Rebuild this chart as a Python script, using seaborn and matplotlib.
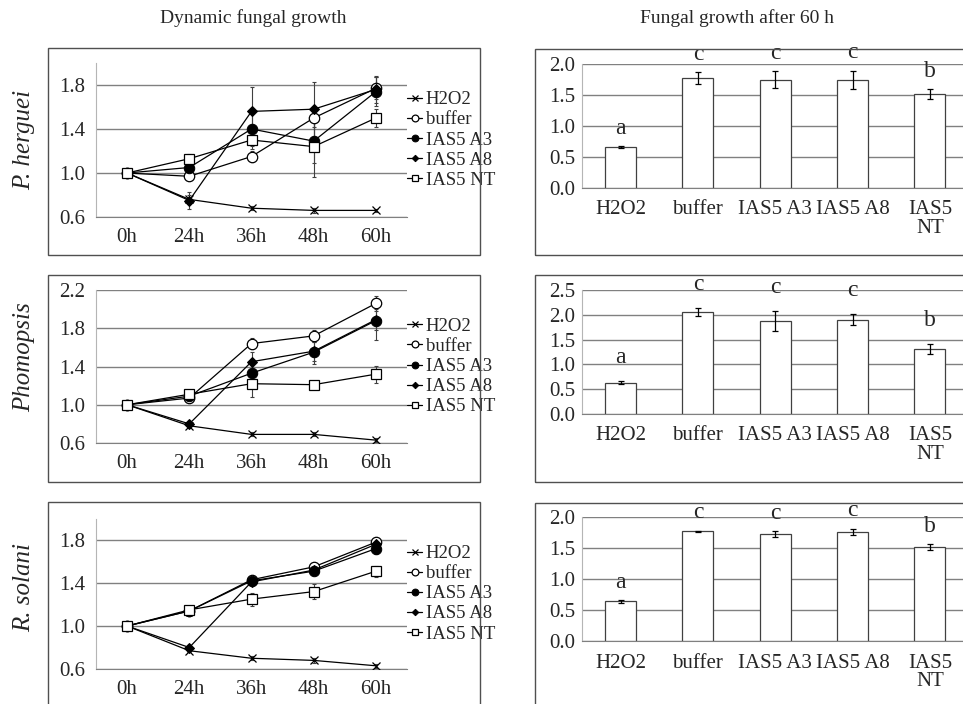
import numpy as np
import pandas as pd
import matplotlib
matplotlib.use('Agg')
import matplotlib.pyplot as plt
import seaborn as sns
from matplotlib.patches import Rectangle

# --- data ---
times = ['0h', '24h', '36h', '48h', '60h']
treatments = ['H2O2', 'buffer', 'IAS5 A3', 'IAS5 A8', 'IAS5 NT']
bar_ticklabels = ['H2O2', 'buffer', 'IAS5 A3', 'IAS5 A8', 'IAS5\nNT']
fungi = ['P. herguei', 'Phomopsis', 'R. solani']

# P. herguei, dynamic growth
herguei_h2o2 = [1.0, 0.76, 0.68, 0.66, 0.66]
herguei_buffer = [1.0, 0.97, 1.15, 1.50, 1.77]
herguei_a3 = [1.0, 1.05, 1.40, 1.29, 1.74]
herguei_a8 = [1.0, 0.75, 1.56, 1.58, 1.76]
herguei_nt = [1.0, 1.13, 1.30, 1.24, 1.50]
herguei_err = [[0, 0.04, 0.02, 0.02, 0.01],
               [0, 0.03, 0.05, 0.08, 0.10],
               [0, 0.05, 0.15, 0.20, 0.13],
               [0, 0.08, 0.22, 0.25, 0.12],
               [0, 0.04, 0.08, 0.28, 0.08]]

# Phomopsis, dynamic growth
phomopsis_h2o2 = [1.0, 0.78, 0.69, 0.69, 0.63]
phomopsis_buffer = [1.0, 1.07, 1.64, 1.72, 2.06]
phomopsis_a3 = [1.0, 1.09, 1.33, 1.55, 1.88]
phomopsis_a8 = [1.0, 0.80, 1.45, 1.56, 1.89]
phomopsis_nt = [1.0, 1.11, 1.22, 1.21, 1.32]
phomopsis_err = [[0, 0.02, 0.02, 0.02, 0.02],
                 [0, 0.02, 0.06, 0.06, 0.08],
                 [0, 0.03, 0.15, 0.12, 0.20],
                 [0, 0.03, 0.10, 0.10, 0.11],
                 [0, 0.04, 0.14, 0.04, 0.09]]

# R. solani, dynamic growth
solani_h2o2 = [1.0, 0.77, 0.70, 0.68, 0.63]
solani_buffer = [1.0, 1.14, 1.43, 1.55, 1.78]
solani_a3 = [1.0, 1.14, 1.42, 1.51, 1.72]
solani_a8 = [1.0, 0.80, 1.41, 1.52, 1.76]
solani_nt = [1.0, 1.15, 1.25, 1.32, 1.51]
solani_err = [[0, 0.01, 0.02, 0.02, 0.02],
              [0, 0.02, 0.02, 0.02, 0.01],
              [0, 0.02, 0.03, 0.03, 0.05],
              [0, 0.02, 0.03, 0.03, 0.05],
              [0, 0.03, 0.06, 0.07, 0.05]]

# growth after 60 h
herguei_60 = [0.66, 1.77, 1.75, 1.74, 1.51]
herguei_60_err = [0.01, 0.10, 0.13, 0.15, 0.08]
phomopsis_60 = [0.63, 2.06, 1.88, 1.90, 1.31]
phomopsis_60_err = [0.03, 0.08, 0.20, 0.11, 0.10]
solani_60 = [0.64, 1.77, 1.72, 1.76, 1.51]
solani_60_err = [0.02, 0.01, 0.05, 0.05, 0.05]
letters = ['a', 'c', 'c', 'c', 'b']

line_data = [
    ([herguei_h2o2, herguei_buffer, herguei_a3, herguei_a8, herguei_nt], herguei_err),
    ([phomopsis_h2o2, phomopsis_buffer, phomopsis_a3, phomopsis_a8, phomopsis_nt], phomopsis_err),
    ([solani_h2o2, solani_buffer, solani_a3, solani_a8, solani_nt], solani_err),
]
bar_data = [(herguei_60, herguei_60_err), (phomopsis_60, phomopsis_60_err),
            (solani_60, solani_60_err)]

line_ylims = [(0.6, 2.0), (0.6, 2.2), (0.6, 2.0)]
line_yticks = [[0.6, 1.0, 1.4, 1.8], [0.6, 1.0, 1.4, 1.8, 2.2], [0.6, 1.0, 1.4, 1.8]]
bar_ylims = [(0, 2.0), (0, 2.5), (0, 2.0)]
bar_yticks = [np.arange(0, 2.01, 0.5), np.arange(0, 2.51, 0.5), np.arange(0, 2.01, 0.5)]
letter_offsets = [13, 17, 13]

marker_styles = {
    'H2O2': dict(marker='x', markersize=6, markerfacecolor='black', markeredgecolor='black', markeredgewidth=0.9),
    'buffer': dict(marker='o', markersize=7.5, markerfacecolor='white', markeredgecolor='black', markeredgewidth=0.9),
    'IAS5 A3': dict(marker='o', markersize=7.5, markerfacecolor='black', markeredgecolor='black'),
    'IAS5 A8': dict(marker='D', markersize=5, markerfacecolor='black', markeredgecolor='black'),
    'IAS5 NT': dict(marker='s', markersize=7, markerfacecolor='white', markeredgecolor='black', markeredgewidth=0.9),
}

sns.set_style('white')
plt.rcParams['font.family'] = ['Liberation Serif', 'DejaVu Serif']

W, H = 963, 704
fig = plt.figure(figsize=(W / 100, H / 100), dpi=100)


def px_axes(x0, y0, x1, y1):
    return fig.add_axes([x0 / W, 1 - y1 / H, (x1 - x0) / W, (y1 - y0) / H])


def px_box(x0, y0, x1, y1):
    fig.patches.append(Rectangle((x0 / W, 1 - y1 / H), (x1 - x0) / W, (y1 - y0) / H,
                                 transform=fig.transFigure, fill=False,
                                 edgecolor='#505050', linewidth=1.0, zorder=0))


def style_axes(ax, ylim, yticks, ypad):
    ax.set_xlim(-0.5, 4.5)
    ax.set_ylim(*ylim)
    ax.set_yticks(yticks)
    ax.set_yticklabels([f'{v:.1f}' for v in yticks], fontsize=15)
    ax.set_xticks(range(5))
    ax.set_xticks(np.arange(-0.5, 5, 1), minor=True)
    ax.tick_params(axis='x', which='major', length=0, pad=8, labelsize=15)
    ax.tick_params(axis='x', which='minor', length=5, color='#808080', width=0.8, direction='out')
    ax.tick_params(axis='y', length=0, pad=ypad)
    ax.yaxis.grid(True, color='#808080', linewidth=1.0)
    ax.xaxis.grid(False)
    ax.set_axisbelow(True)
    for s in ['top', 'right']:
        ax.spines[s].set_visible(False)
    ax.spines['left'].set_color('#b5b5b5')
    ax.spines['bottom'].set_color('#808080')
    ax.set_xlabel('')
    ax.set_ylabel('')
    ax.set_facecolor('none')


fig.text(253 / W, 1 - 18 / H, 'Dynamic fungal growth', ha='center', va='center', fontsize=14)
fig.text(737 / W, 1 - 18 / H, 'Fungal growth after 60 h', ha='center', va='center', fontsize=14)

left_boxes = [(48, 48, 480, 255), (48, 275, 480, 482), (48, 502, 480, 712)]
right_boxes = [(535, 49, 975, 255), (535, 275, 975, 482), (535, 503, 975, 712)]
line_axes_px = [(96, 63, 407, 217), (96, 290, 407, 443), (96, 518.5, 407, 669)]
bar_axes_px = [(582, 64, 968.5, 188), (582, 290, 968.5, 414), (582, 517, 968.5, 641)]
ylabel_y = [140, 357, 588]

for row in range(3):
    px_box(*left_boxes[row])
    px_box(*right_boxes[row])

    # dynamic growth lines
    ax = px_axes(*line_axes_px[row])
    series, errs = line_data[row]
    rows = []
    for name, vals, err in zip(treatments, series, errs):
        for i, t in enumerate(times):
            rows.append({'treatment': name, 'time': t, 'pos': i, 'value': vals[i], 'err': err[i]})
    df = pd.DataFrame(rows)
    for name in treatments:
        sub = df[df['treatment'] == name]
        ax.errorbar(sub['pos'], sub['value'], yerr=sub['err'], fmt='none',
                    ecolor='#404040', elinewidth=0.8, capsize=1.5, capthick=0.8, zorder=2)
        sns.lineplot(data=sub, x='pos', y='value', ax=ax, color='black', linewidth=0.9,
                     label=name, zorder=3, **marker_styles[name])
    style_axes(ax, line_ylims[row], line_yticks[row], 8)
    ax.set_xticklabels(times)
    handles, labels = ax.get_legend_handles_labels()
    ax.legend(handles, labels, loc='center left', bbox_to_anchor=(1.0, 0.5), frameon=False,
              handlelength=0.8, handletextpad=0.2, labelspacing=0.16, borderpad=0,
              borderaxespad=0, fontsize=13.5, markerscale=0.65)
    fig.text(24 / W, 1 - ylabel_y[row] / H, fungi[row], rotation=90, style='italic',
             ha='center', va='center', fontsize=18)

    # growth after 60 h bars
    bx = px_axes(*bar_axes_px[row])
    vals, err = bar_data[row]
    bdf = pd.DataFrame({'treatment': treatments, 'value': vals, 'err': err})
    sns.barplot(data=bdf, x='treatment', y='value', ax=bx, color='white', edgecolor='#404040',
                linewidth=0.9, width=0.4, errorbar=None, zorder=2)
    bx.errorbar(range(5), bdf['value'], yerr=bdf['err'], fmt='none', ecolor='black',
                elinewidth=0.9, capsize=2.5, capthick=0.9, zorder=3)
    for i, (v, e, lt) in enumerate(zip(vals, err, letters)):
        bx.annotate(lt, (i, v + e), xytext=(0, letter_offsets[row]), textcoords='offset points',
                    ha='center', va='center', fontsize=17, annotation_clip=False)
    style_axes(bx, bar_ylims[row], bar_yticks[row], 5)
    bx.set_xticklabels(bar_ticklabels, linespacing=0.95)
    bx.tick_params(axis='x', which='major', pad=9)
    bx.tick_params(axis='x', which='minor', length=4)

fig.savefig('out.png', dpi=100)
